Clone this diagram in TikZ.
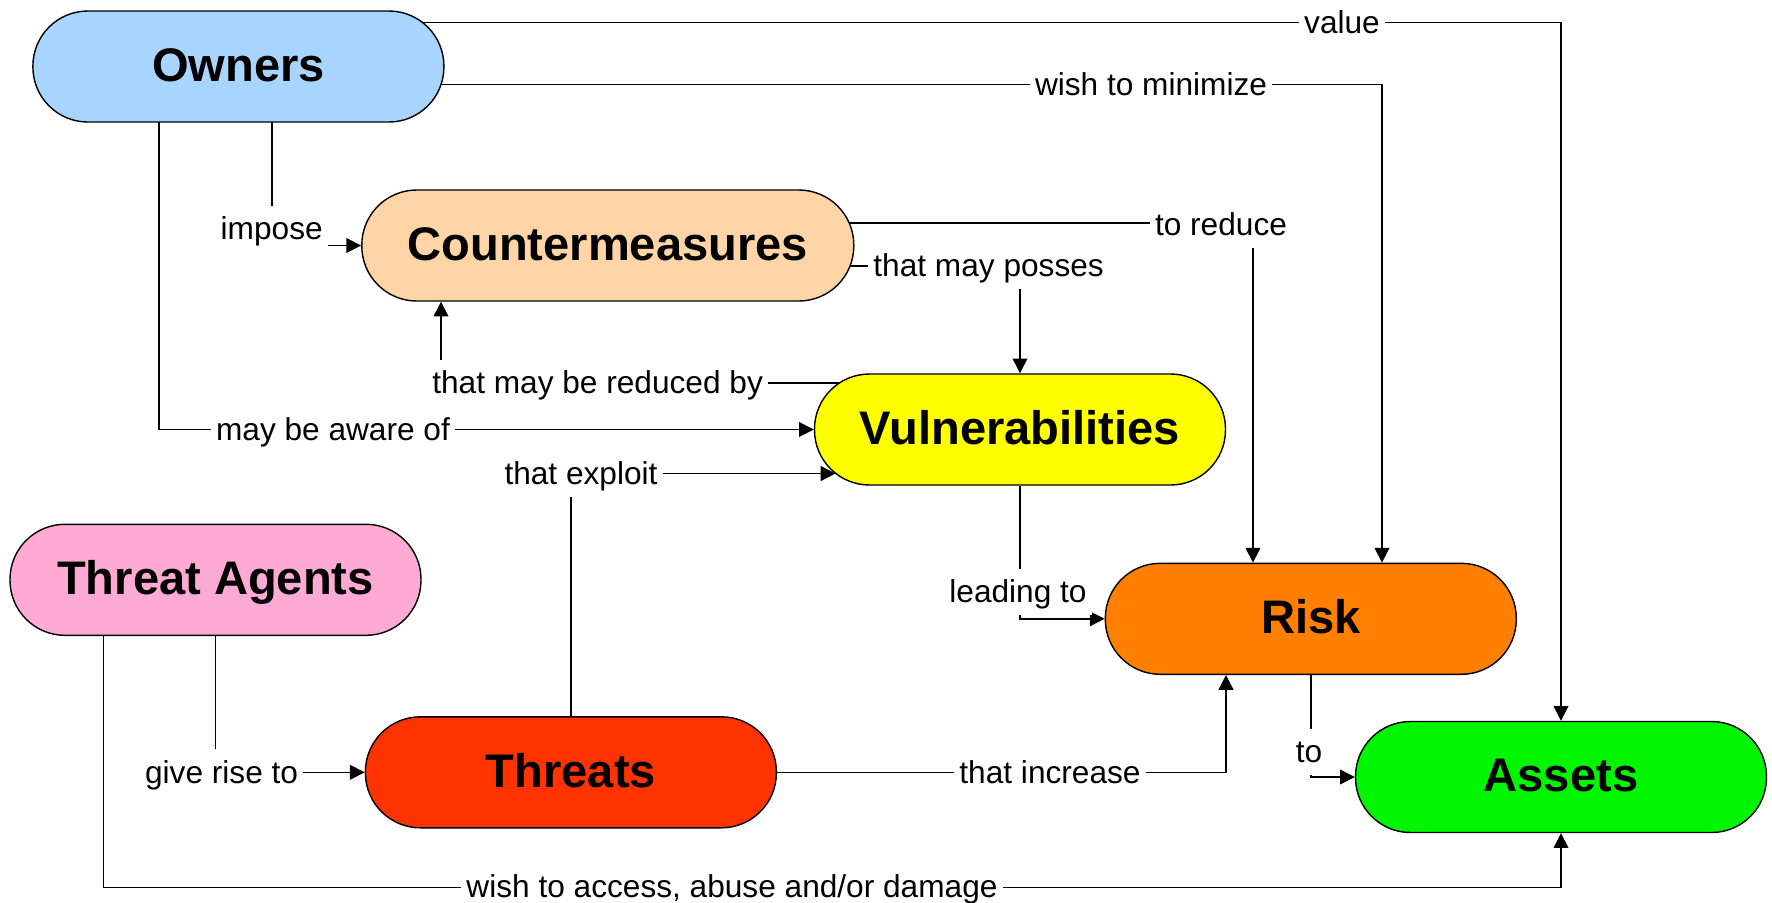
\documentclass[tikz,border=0pt]{standalone}
\usepackage{fontspec}
\setmainfont{Liberation Sans}
\usetikzlibrary{arrows.meta,backgrounds}

\definecolor{ownerblue}{HTML}{A8D5FF}
\definecolor{cmpeach}{HTML}{FFD5A8}
\definecolor{vulnyellow}{HTML}{FFFF00}
\definecolor{agentpink}{HTML}{FFAAD5}
\definecolor{threatred}{HTML}{FF3300}
\definecolor{riskorange}{HTML}{FF7F00}
\definecolor{assetgreen}{HTML}{00F500}

\begin{document}
\begin{tikzpicture}[
    >={Triangle[length=4.2pt,width=4.2pt]},
    box/.style={draw, line width=0.4pt, rounded corners=0.55cm, minimum width=4.11cm,
        minimum height=1.11cm, text height=9.6pt, text depth=1.2pt,
        font=\fontsize{13.4}{16}\selectfont\bfseries},
    lbl/.style={fill=white, inner xsep=1.5pt, inner ysep=2.5pt, text height=7.2pt,
        text depth=1pt, font=\fontsize{9}{11}\selectfont}
]
        \useasboundingbox (0,0) rectangle (17.72,9.02);

        % Boxes
        \node[box, fill=ownerblue] (owners) at (2.384,8.355) {Owners};
        \node[box, fill=cmpeach, minimum width=4.92cm] (cm) at (6.078,6.565) {Countermeasures};
        \node[box, fill=vulnyellow] (vuln) at (10.20,4.725) {Vulnerabilities};
        \node[box, fill=agentpink] (agents) at (2.155,3.222) {Threat Agents};
        \node[box, fill=threatred] (threats) at (5.709,1.297) {Threats};
        \node[box, fill=riskorange] (risk) at (13.108,2.832) {Risk};
        \node[box, fill=assetgreen] (assets) at (15.61,1.25) {Assets};

        % Labels
        \node[lbl] (value) at (13.42,8.793) {value};
        \node[lbl] (minimize) at (11.51,8.175) {wish to minimize};
        \node[lbl] (impose) at (2.717,6.73) {impose};
        \node[lbl] (reduce) at (12.21,6.774) {to reduce};
        \node[lbl] (posses) at (9.886,6.36) {that may posses};
        \node[lbl] (reducedby) at (5.976,5.19) {that may be reduced by};
        \node[lbl] (aware) at (3.33,4.725) {may be aware of};
        \node[lbl] (exploit) at (5.81,4.285) {that exploit};
        \node[lbl] (leading) at (10.18,3.10) {leading to};
        \node[lbl] (riseto) at (2.216,1.297) {give rise to};
        \node[lbl] (increase) at (10.50,1.297) {that increase};
        \node[lbl] (to) at (13.09,1.50) {to};
        \node[lbl] (access) at (7.32,0.153) {wish to access, abuse and/or damage};

        \begin{scope}[on background layer]
        % Owners
        \draw[->] ([yshift=0.438cm]owners.center) -| (assets.north);
        \draw[->] ([yshift=-0.18cm]owners.center) -| ([xshift=0.712cm]risk.north);
        \draw[->] ([xshift=0.336cm]owners.center) |- (cm.west);
        \draw[->] ([xshift=-0.794cm]owners.center) |- (vuln.west);

        % Countermeasures
        \draw[->] ([yshift=0.225cm]cm.center) -| ([xshift=-0.578cm]risk.north);
        \draw[->] ([yshift=-0.205cm]cm.center) -| (vuln.north);

        % Vulnerabilities
        \draw[->] ([yshift=0.465cm]vuln.center) -| ([xshift=-1.668cm]cm.south);
        \draw[->] (vuln.south) |- (risk.west);

        % Threat agents and threats
        \draw[->] (agents.south) |- (threats.west);
        \draw[->] ([xshift=-1.12cm]agents.center) |- ([yshift=-0.544cm]assets.south) -- (assets.south);
        \draw[->] (threats.north) |- ([shift={(0.217,-0.44)}]vuln.west);
        \draw[->] (threats.east) -| ([xshift=-0.848cm]risk.south);

        % Risk
        \draw[->] (risk.south) |- (assets.west);
        \end{scope}
      \end{tikzpicture}
\end{document}
